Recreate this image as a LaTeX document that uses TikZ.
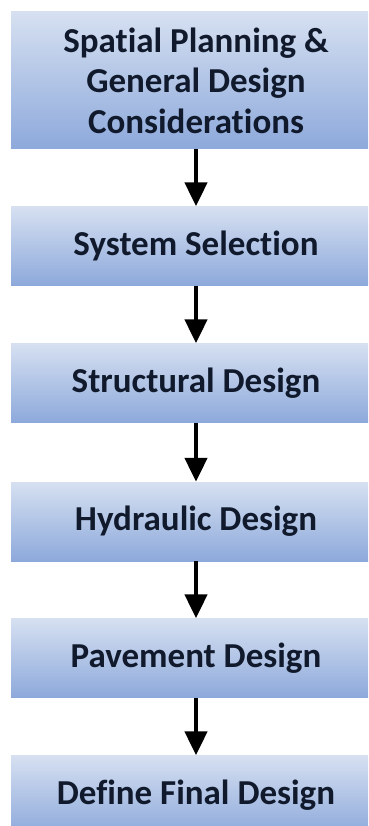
\documentclass[tikz,border=0pt]{standalone}
\usepackage{fontspec}
\setmainfont[Ligatures=NoCommon]{Carlito}
\usetikzlibrary{arrows.meta}
\definecolor{boxtop}{HTML}{D6E0F1}
\definecolor{boxbot}{HTML}{8DA9DB}
\definecolor{ink}{HTML}{101A2C}
\tikzset{
  stepbox/.style={rectangle, minimum width=370pt, minimum height=79pt,
    top color=boxtop, bottom color=boxbot, draw=none,
    font=\bfseries\fontsize{35}{40.5}\selectfont, text=ink, align=center, inner sep=0pt},
  flow/.style={line width=4.5pt, -{Triangle[width=22pt,length=24pt]}, draw=black}
}
\begin{document}
\begin{tikzpicture}[x=1pt,y=-1pt]
\useasboundingbox (0,0) rectangle (368,826);
\fill[white] (0,0) rectangle (368,826);
\clip (0,0) rectangle (368,826);
\node[stepbox, minimum height=137pt] (s1) at (196,80.5) {Spatial Planning \&\\General Design\\Considerations};
\node[stepbox] (s2) at (196,246) {System Selection};
\node[stepbox] (s3) at (196,383) {Structural Design};
\node[stepbox] (s4) at (196,521.5) {Hydraulic Design};
\node[stepbox] (s5) at (196,658) {Pavement Design};
\node[stepbox] (s6) at (196,795) {Define Final Design};
\draw[flow] (s1.south) -- (s2.north);
\draw[flow] (s2.south) -- (s3.north);
\draw[flow] (s3.south) -- (s4.north);
\draw[flow] (s4.south) -- (s5.north);
\draw[flow] (s5.south) -- (s6.north);
\end{tikzpicture}
\end{document}
